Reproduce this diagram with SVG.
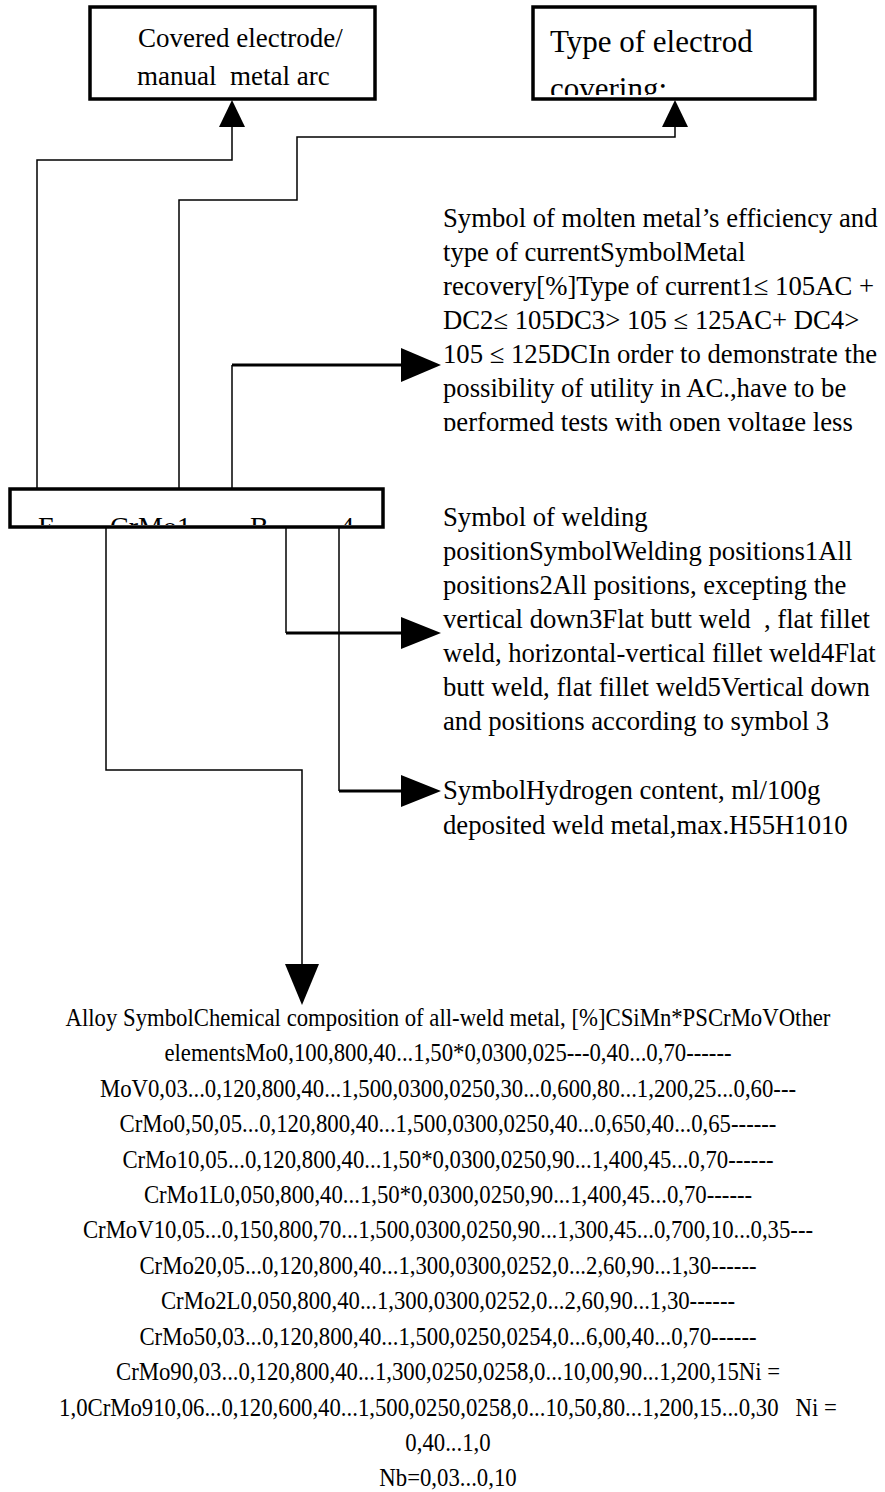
<svg xmlns="http://www.w3.org/2000/svg" width="885" height="1492" viewBox="0 0 885 1492">
<style>
  .box { fill: #fff; stroke: #000; stroke-width: 3.5; }
  .t { font-family: "Liberation Serif", "Times New Roman", serif; fill: #000; }
  .bt { font-size: 27px; }
  .body { font-size: 26.7px; }
  .tab { font-size: 25px; }
  .conn { fill: none; stroke: #000; stroke-width: 1.5; }
  .thick { fill: none; stroke: #000; stroke-width: 3; }
  .head { fill: #000; }
</style>
<defs>
  <clipPath id="clipBox2"><rect x="535" y="9" width="278" height="86"/></clipPath>
  <clipPath id="clipMid"><rect x="12" y="491" width="369" height="34"/></clipPath>
  <clipPath id="clipEff"><rect x="430" y="190" width="455" height="241"/></clipPath>
</defs>
<rect width="885" height="1492" fill="#fff"/>

<g id="connectors">
  <path class="conn" d="M37,489 V160 H232 V126"/>
  <polygon class="head" points="232,100 219,127 245,127"/>
  <path class="conn" d="M179,489 V200 H297 V137 H675 V126"/>
  <polygon class="head" points="675,100 662,127 688,127"/>
  <path class="conn" d="M232,489 V365"/>
  <path class="thick" d="M232,365 H403"/>
  <polygon class="head" points="441,365 401,348 401,382"/>
  <path class="conn" d="M286,527 V633"/>
  <path class="thick" d="M286,633 H403"/>
  <polygon class="head" points="441,633 401,617 401,649"/>
  <path class="conn" d="M339,527 V791"/>
  <path class="thick" d="M339,791 H403"/>
  <polygon class="head" points="441,791 401,775 401,807"/>
  <path class="conn" d="M106,527 V770 H302 V966"/>
  <polygon class="head" points="302,1005 285,964 319,964"/>
</g>

<g id="node-covered-electrode">
  <rect class="box" x="90" y="7" width="285" height="92"/>
  <text class="t bt" x="138" y="47">Covered electrode/</text>
  <text class="t bt" x="137" y="85" xml:space="preserve">manual  metal arc</text>
</g>

<g id="node-covering">
  <rect class="box" x="533" y="7" width="282" height="92"/>
  <g clip-path="url(#clipBox2)">
    <text class="t" font-size="31" x="550" y="52">Type of electrod</text>
    <text class="t" font-size="31" x="550" y="99">covering:</text>
  </g>
</g>

<g id="node-designation">
  <rect class="box" x="10" y="489" width="373" height="38"/>
  <g clip-path="url(#clipMid)">
    <text class="t" font-size="28" y="536"><tspan x="38">E</tspan><tspan x="110">CrMo1</tspan><tspan x="250">B</tspan><tspan x="340">4</tspan></text>
  </g>
</g>

<g id="node-efficiency" clip-path="url(#clipEff)">
  <text class="t body" x="443" y="227">Symbol of molten metal’s efficiency and</text>
  <text class="t body" x="443" y="261">type of currentSymbolMetal</text>
  <text class="t body" x="443" y="295">recovery[%]Type of current1≤ 105AC +</text>
  <text class="t body" x="443" y="329">DC2≤ 105DC3&gt; 105 ≤ 125AC+ DC4&gt;</text>
  <text class="t body" x="443" y="363">105 ≤ 125DCIn order to demonstrate the</text>
  <text class="t body" x="443" y="397">possibility of utility in AC.,have to be</text>
  <text class="t body" x="443" y="431">performed tests with open voltage less</text>
</g>

<g id="node-position">
  <text class="t body" x="443" y="526">Symbol of welding</text>
  <text class="t body" x="443" y="560">positionSymbolWelding positions1All</text>
  <text class="t body" x="443" y="594">positions2All positions, excepting the</text>
  <text class="t body" x="443" y="628" xml:space="preserve">vertical down3Flat butt weld  , flat fillet</text>
  <text class="t body" x="443" y="662">weld, horizontal-vertical fillet weld4Flat</text>
  <text class="t body" x="443" y="696">butt weld, flat fillet weld5Vertical down</text>
  <text class="t body" x="443" y="730">and positions according to symbol 3</text>
</g>

<g id="node-hydrogen">
  <text class="t body" x="443" y="799">SymbolHydrogen content, ml/100g</text>
  <text class="t body" x="443" y="834">deposited weld metal,max.H55H1010</text>
</g>

<g id="node-alloy" text-anchor="middle" transform="translate(448,0) scale(0.91,1) translate(-448,0)">
  <text class="t tab" x="448" y="1026">Alloy SymbolChemical composition of all-weld metal, [%]CSiMn*PSCrMoVOther</text>
  <text class="t tab" x="448" y="1061">elementsMo0,100,800,40...1,50*0,0300,025---0,40...0,70------</text>
  <text class="t tab" x="448" y="1097">MoV0,03...0,120,800,40...1,500,0300,0250,30...0,600,80...1,200,25...0,60---</text>
  <text class="t tab" x="448" y="1132">CrMo0,50,05...0,120,800,40...1,500,0300,0250,40...0,650,40...0,65------</text>
  <text class="t tab" x="448" y="1168">CrMo10,05...0,120,800,40...1,50*0,0300,0250,90...1,400,45...0,70------</text>
  <text class="t tab" x="448" y="1203">CrMo1L0,050,800,40...1,50*0,0300,0250,90...1,400,45...0,70------</text>
  <text class="t tab" x="448" y="1238">CrMoV10,05...0,150,800,70...1,500,0300,0250,90...1,300,45...0,700,10...0,35---</text>
  <text class="t tab" x="448" y="1274">CrMo20,05...0,120,800,40...1,300,0300,0252,0...2,60,90...1,30------</text>
  <text class="t tab" x="448" y="1309">CrMo2L0,050,800,40...1,300,0300,0252,0...2,60,90...1,30------</text>
  <text class="t tab" x="448" y="1345">CrMo50,03...0,120,800,40...1,500,0250,0254,0...6,00,40...0,70------</text>
  <text class="t tab" x="448" y="1380">CrMo90,03...0,120,800,40...1,300,0250,0258,0...10,00,90...1,200,15Ni =</text>
  <text class="t tab" x="448" y="1416" xml:space="preserve">1,0CrMo910,06...0,120,600,40...1,500,0250,0258,0...10,50,80...1,200,15...0,30   Ni =</text>
  <text class="t tab" x="448" y="1451">0,40...1,0</text>
  <text class="t tab" x="448" y="1486">Nb=0,03...0,10</text>
</g>
</svg>
